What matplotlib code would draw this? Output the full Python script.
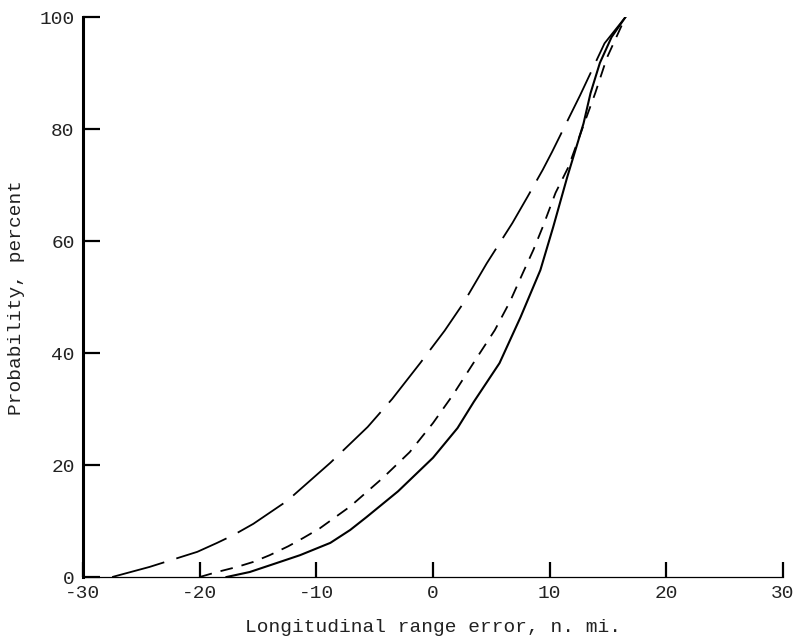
import matplotlib
matplotlib.use("Agg")
import matplotlib.pyplot as plt

# Long-dash curve
long_x = [-27.5, -24.3, -20.2, -18.5, -17.1, -15.4, -12.5, -8.8, -5.6, -3.5,
          -1.1, 1.0, 2.6, 4.6, 6.8, 8.1, 9.4, 10.2, 12.6, 14.7, 16.5]
long_p = [0, 1.8, 4.5, 6.1, 7.5, 9.5, 13.6, 20.4, 26.8, 31.8,
          38.2, 44.0, 48.9, 56.0, 63.2, 67.9, 72.7, 75.9, 86.0, 95.3, 100]

# Short-dash curve
short_x = [-20, -18.5, -16.8, -15.4, -14, -12.4, -11.1, -9.7, -7.1, -4.3, -2.0,
           0, 1.7, 3.8, 5.3, 6.6, 7.7, 8.6, 9.4, 10.5, 11.6, 13.9, 14.9, 16.5]
short_p = [0, 0.9, 1.8, 2.7, 3.9, 5.5, 7.0, 8.7, 12.6, 17.7, 22.3,
           27.5, 32.5, 39.3, 44.1, 49.2, 54.3, 58.4, 62.5, 68.6, 73.2, 86.4, 92.7, 100]

# Solid curve
solid_x = [-17.7, -15.7, -13.4, -11.4, -8.8, -7.1, -5.7, -3.0, 0, 2.1, 3.5,
           5.7, 7.5, 9.2, 10.3, 11.5, 12.2, 12.9, 13.5, 14.3, 15.3, 16.5]
solid_p = [0, 0.9, 2.5, 3.9, 6.1, 8.4, 10.7, 15.3, 21.3, 26.6, 31.3,
           38.2, 46.4, 54.8, 62.5, 71.4, 76.2, 81.0, 86.4, 91.8, 96.4, 100]

x_ticks = [-30, -20, -10, 0, 10, 20, 30]
y_ticks = [0, 20, 40, 60, 80, 100]

plt.rcParams['font.family'] = ['Liberation Mono', 'DejaVu Sans Mono']
text_color = '#222222'

fig = plt.figure(figsize=(8.01, 6.44), dpi=100)
ax = fig.add_axes([0.1036, 0.104, 0.874, 0.8696])

ax.plot(solid_x, solid_p, color='black', lw=1.5, solid_joinstyle='round')
ax.plot(short_x, short_p, color='black', lw=1.3, dashes=(7, 5))
ax.plot(long_x, long_p, color='black', lw=1.3, dashes=(30, 7))

ax.set_xlim(-30, 30)
ax.set_ylim(0, 100)
ax.set_xticks(x_ticks)
ax.set_yticks(y_ticks)
ax.set_xticklabels([str(v) for v in x_ticks])
ax.set_yticklabels([str(v) for v in y_ticks])

for side in ('top', 'right'):
    ax.spines[side].set_visible(False)
ax.spines['left'].set_linewidth(2.2)
ax.spines['bottom'].set_linewidth(0.9)

ax.tick_params(axis='y', direction='in', length=12, width=1.6, pad=6,
               labelsize=14, labelcolor=text_color)
ax.tick_params(axis='x', direction='in', length=11, width=1.6, pad=6,
               labelsize=14, labelcolor=text_color)

ax.set_xlabel('Longitudinal range error, n. mi.', fontsize=14,
              color=text_color, labelpad=12)
ax.set_ylabel('Probability, percent', fontsize=14, color=text_color)
ax.yaxis.set_label_coords(-0.083, 0.5)

fig.savefig('out.png', dpi=100)
plt.close(fig)
